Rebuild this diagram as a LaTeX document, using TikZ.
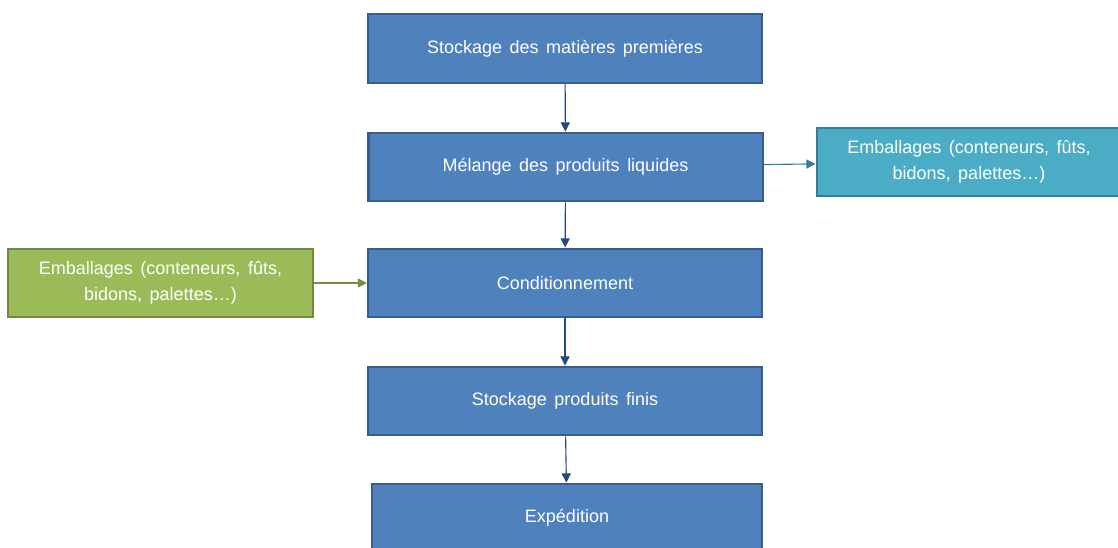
\documentclass[tikz,border=0pt]{standalone}
\usepackage{fontspec}
\setmainfont{Liberation Sans}[WordSpace=1.5]
\usetikzlibrary{
  arrows.meta
  , positioning
}
\definecolor{bleuFond}{HTML}{4F81BD}
\definecolor{bleuBord}{HTML}{385D8A}
\definecolor{bleuFleche}{HTML}{254A7A}
\definecolor{turqFond}{HTML}{4BACC6}
\definecolor{turqBord}{HTML}{357D91}
\definecolor{vertFond}{HTML}{9BBB59}
\definecolor{vertBord}{HTML}{71893F}
\tikzset{
  etape/.style={rectangle, draw=bleuBord, fill=bleuFond, line width=1.5pt,
    text=white, minimum width=9.85cm, minimum height=1.72cm,
    font=\fontsize{12.8}{18.4}\selectfont, align=center},
  emballage/.style={etape, minimum width=7.62cm},
  fleche/.style={-{Triangle[length=6.5pt,width=6.5pt]}, line width=0.8pt, draw=bleuFleche}
}
\begin{document}
\begin{tikzpicture}[x=0.025cm, y=-0.025cm]
      \useasboundingbox (0,0) rectangle (1118,547);
      \clip (0,0) rectangle (1118,547);

      \node [etape] (stockMP) at (565,48.5) {Stockage des matières premières};
      \node [etape] (melange) at (565.5,167) {Mélange des produits liquides};
      \node [emballage, draw=turqBord, fill=turqFond] (emballD) at (969,162)
        {Emballages (conteneurs, fûts,\\ bidons, palettes…)};
      \node [emballage, draw=vertBord, fill=vertFond] (emballG) at (160.5,283)
        {Emballages (conteneurs, fûts,\\ bidons, palettes…)};
      \node [etape] (condit) at (565,283) {Conditionnement};
      \node [etape] (stockPF) at (565,401) {Stockage produits finis};
      \node [etape, minimum width=9.75cm] (expedition) at (567,518) {Expédition};

      \draw [fleche] (stockMP) -- (melange);
      \draw [fleche] (melange) -- (condit);
      \draw [fleche] (condit) -- (stockPF);
      \draw [fleche] (stockPF) -- (expedition);
      \draw [fleche, draw=turqBord] (melange) -- (emballD);
      \draw [fleche, draw=vertBord!90!vertFond] (emballG) -- (condit);
    \end{tikzpicture}
\end{document}
